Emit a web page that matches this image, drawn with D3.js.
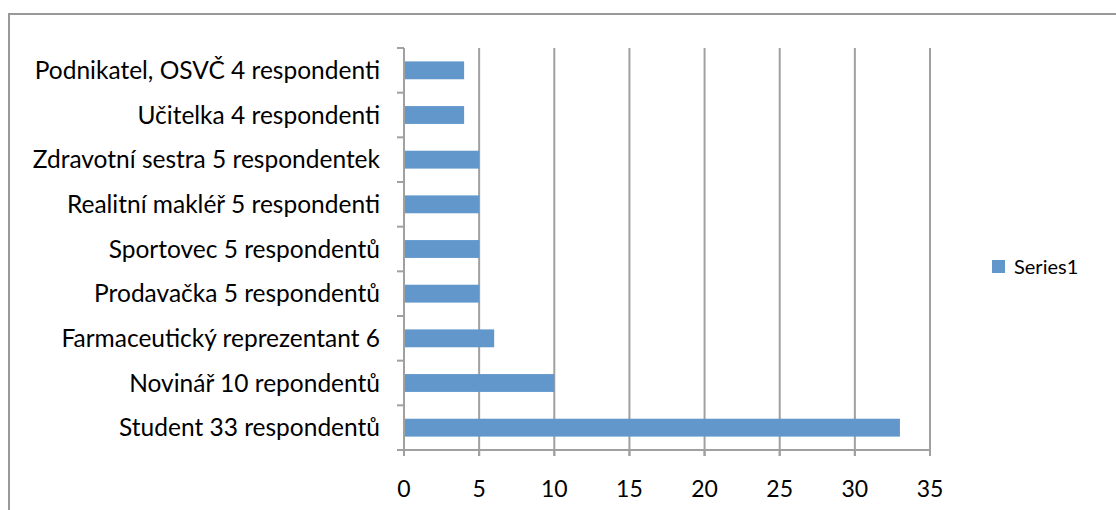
<!DOCTYPE html>
<html><head><meta charset="utf-8">
<script src="https://cdn.jsdelivr.net/npm/d3@7"></script>
<style>body{margin:0;background:#fff}svg{display:block}</style>
</head><body>
<svg id="c" width="1116" height="510"></svg>
<script>
const categories = ["Podnikatel, OSVČ 4 respondenti","Učitelka 4 respondenti","Zdravotní sestra 5 respondentek","Realitní makléř 5 respondenti","Sportovec 5 respondentů","Prodavačka 5 respondentů","Farmaceutický reprezentant 6","Novinář 10 repondentů","Student 33 respondentů"];
const values = [4,4,5,5,5,5,6,10,33];
const xTicks = [0,5,10,15,20,25,30,35];
const seriesName = "Series1";

const svg = d3.select("#c");
const font = "Lato, 'Open Sans', sans-serif";
const grey = "#a0a0a0";
const barColor = "#6297cb";

// frame
svg.append("rect").attr("x",9).attr("y",14).attr("width",1200).attr("height",600)
  .attr("fill","none").attr("stroke","#999").attr("stroke-width",2);

const x = d3.scaleLinear().domain([0,35]).range([404,930]);
const y = d3.scaleBand().domain(categories).range([48,450]).paddingInner(0.6).paddingOuter(0.3);
const yEdges = d3.scaleLinear().domain([0,categories.length]).range([48,450]);

// gridlines
svg.append("g").selectAll("line").data(xTicks.slice(1)).join("line")
  .attr("x1",d=>x(d)).attr("x2",d=>x(d)).attr("y1",48).attr("y2",456)
  .attr("stroke",grey).attr("stroke-width",2);

// x axis
svg.append("line").attr("x1",404).attr("x2",930).attr("y1",450).attr("y2",450).attr("stroke",grey).attr("stroke-width",2);
svg.append("g").selectAll("line").data(xTicks).join("line")
  .attr("x1",d=>x(d)).attr("x2",d=>x(d)).attr("y1",450).attr("y2",456).attr("stroke",grey).attr("stroke-width",2);
svg.append("g").selectAll("text").data(xTicks).join("text")
  .attr("x",d=>x(d)).attr("y",497).attr("text-anchor","middle")
  .attr("font-family",font).attr("font-size",23).attr("fill","#000").text(d=>d);

// y axis
svg.append("line").attr("x1",404).attr("x2",404).attr("y1",48).attr("y2",456).attr("stroke",grey).attr("stroke-width",2);
svg.append("g").selectAll("line").data(d3.range(categories.length+1)).join("line")
  .attr("x1",397).attr("x2",404).attr("y1",d=>yEdges(d)).attr("y2",d=>yEdges(d)).attr("stroke",grey).attr("stroke-width",2);
svg.append("g").selectAll("text").data(categories).join("text")
  .attr("x",380).attr("y",d=>y(d)+y.bandwidth()/2).attr("dy","0.36em").attr("text-anchor","end")
  .attr("font-family",font).attr("font-size",24.5).attr("fill","#000").text(d=>d);

// bars
svg.append("g").selectAll("rect").data(values).join("rect")
  .attr("x",x(0)+1).attr("y",(d,i)=>y(categories[i]))
  .attr("width",d=>x(d)-x(0)-1).attr("height",y.bandwidth())
  .attr("fill",barColor);

// legend
svg.append("rect").attr("x",992).attr("y",260).attr("width",13).attr("height",13).attr("fill",barColor);
svg.append("text").attr("x",1014).attr("y",267).attr("dy","0.36em")
  .attr("font-family",font).attr("font-size",20).attr("fill","#000").text(seriesName);
</script>
</body></html>
